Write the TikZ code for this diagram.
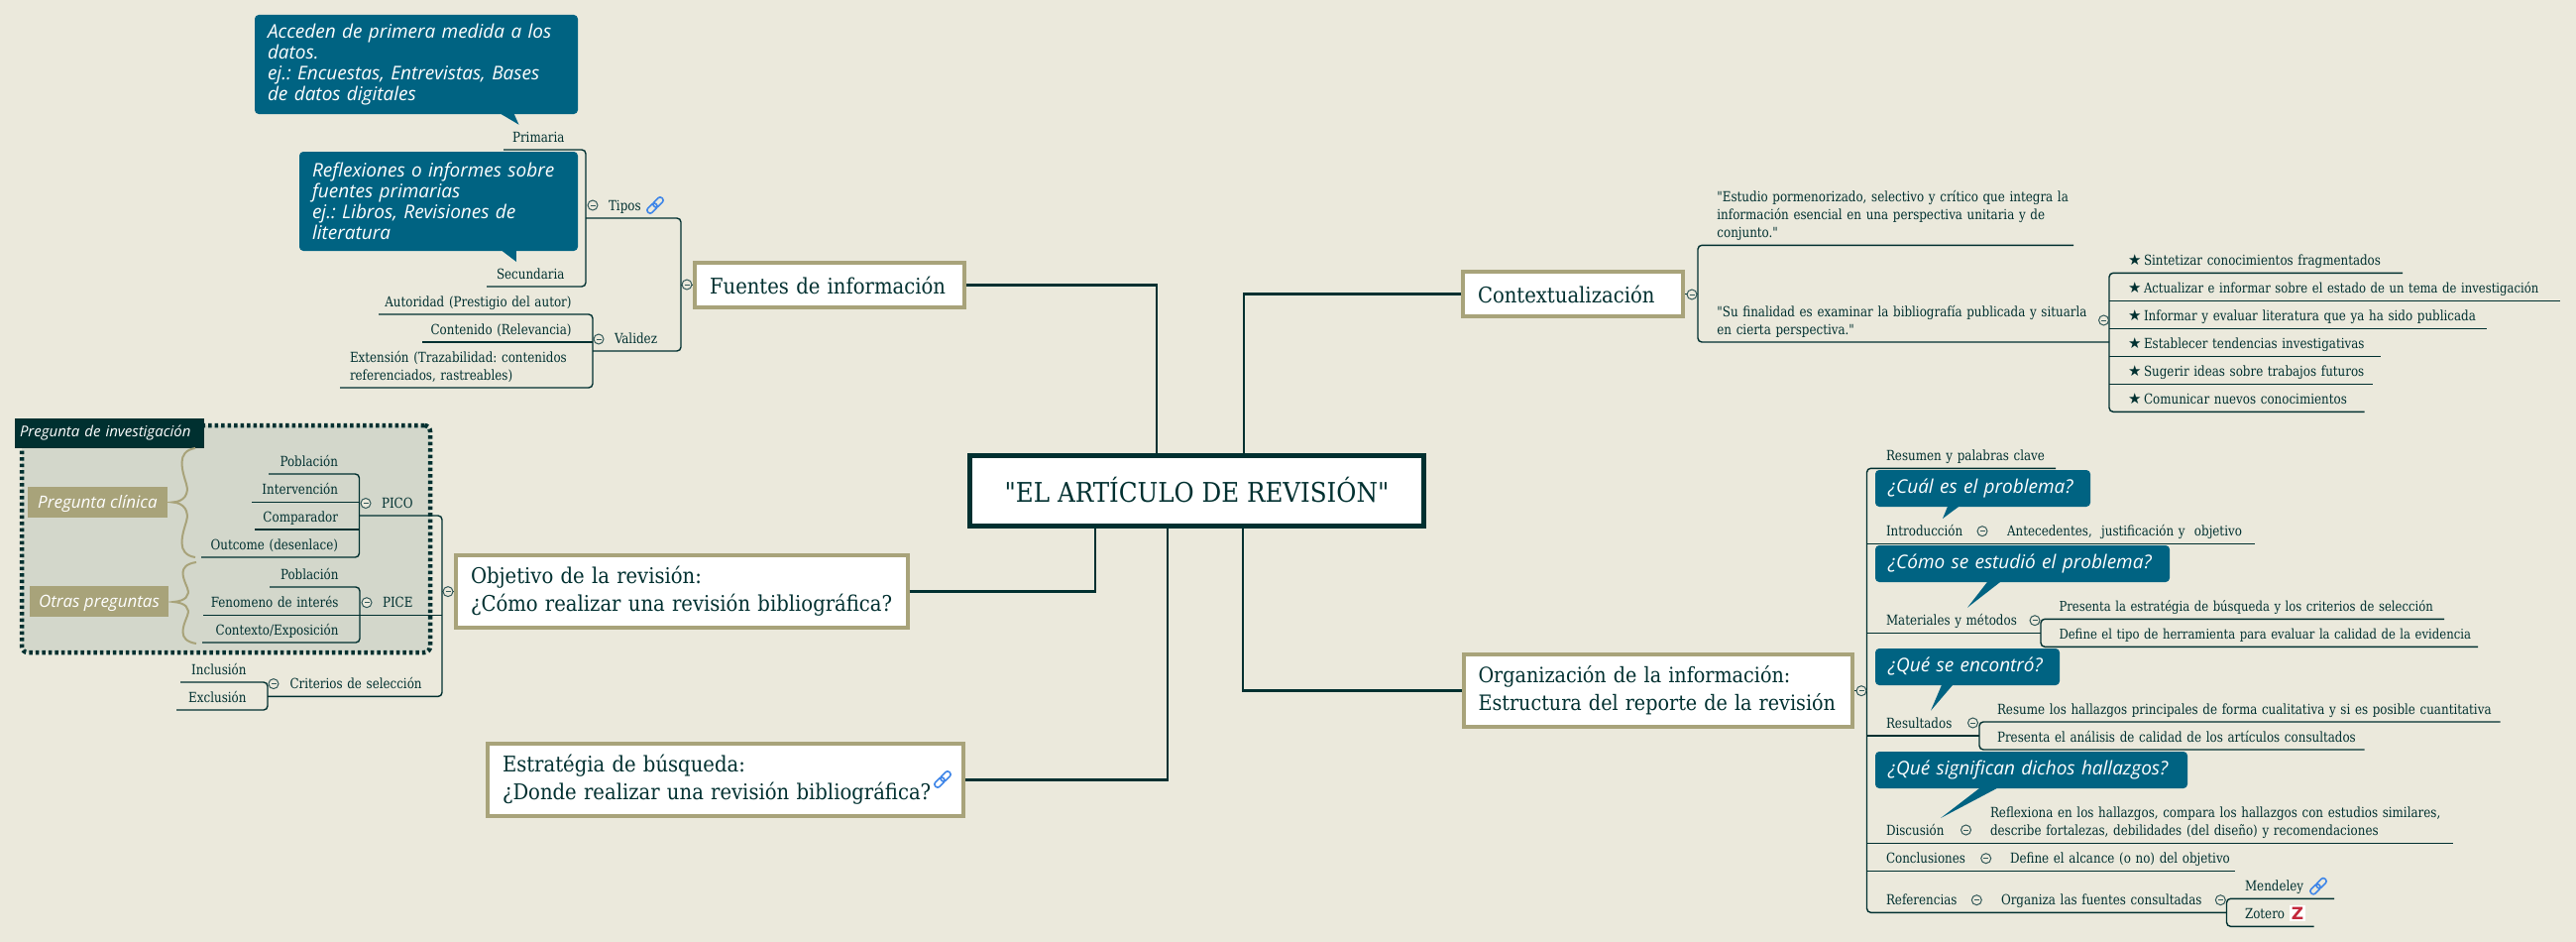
\documentclass[tikz,border=0pt]{standalone}
\usepackage{fontspec}
\newfontfamily\slabfont{DejaVu Serif Condensed}
\newfontfamily\leaffont{DejaVu Serif Condensed}[FakeStretch=0.945]
\newfontfamily\callfont{Open Sans}
\newfontfamily\symbfont{DejaVu Sans}
\usetikzlibrary{calc}
\definecolor{paper}{HTML}{EBE9DC}
\definecolor{ink}{HTML}{003030}
\definecolor{khaki}{HTML}{A8A37A}
\definecolor{callblue}{HTML}{006382}
\definecolor{sage}{HTML}{D3D7CB}
\definecolor{linkblue}{HTML}{3F86E8}
\definecolor{zred}{HTML}{C4283C}
\frenchspacing
\newcommand\lowerend{\endgraf\vskip-3pt\relax}
\begin{document}
\begin{tikzpicture}[
    x=1pt, y=-1pt,
    % Rami
    trunk/.style={draw=ink, line width=2.6pt},
    bough/.style={draw=ink, line width=1.4pt, rounded corners=4pt},
    curly/.style={draw=khaki, line width=2pt},
    % Riquadri
    mainbox/.style={rectangle, draw=ink, fill=white, line width=5pt, align=center, font=\slabfont\fontsize{27.3}{32}\selectfont, text=ink},
    mapbox/.style={rectangle, draw=khaki, fill=white, line width=4pt, text width=#1pt, inner xsep=15pt, align=left, font=\slabfont\fontsize{21.8}{28}\selectfont, text=ink},
    lowered/.style={execute at end node=\lowerend},
    % Fumetti
    callout/.style={rectangle, fill=callblue, rounded corners=4pt, text=white, text width=#1pt, inner xsep=13pt, inner ysep=0pt, align=left, font=\callfont\itshape\fontsize{19}{21}\selectfont},
    calltail/.style={fill=callblue},
    tagbox/.style={rectangle, fill=khaki, text=white, inner sep=0pt, text height=15pt, text depth=4pt, font=\callfont\itshape\fontsize{17}{20}\selectfont},
    titlebox/.style={rectangle, fill=ink, text=white, text width=181pt, inner xsep=5pt, inner ysep=0pt, align=left, font=\callfont\itshape\fontsize{15}{18}\selectfont},
    boundary/.style={rectangle, draw=ink, fill=sage, line width=4.5pt, dash pattern=on 3.5pt off 3pt, rounded corners=6pt},
    % Testi
    leafr/.style 2 args={anchor=south west, text width=#1pt, inner xsep=0pt, inner ysep=2.6pt, outer sep=0pt, align=left, text=ink, font=\leaffont\fontsize{14}{18}\selectfont, execute at begin node={\leftskip=#2pt\relax}, execute at end node=\strut},
    leafl/.style={anchor=south east, text width=#1pt, inner xsep=0pt, inner ysep=2.6pt, outer sep=0pt, align=right, text=ink, font=\leaffont\fontsize{14}{18}\selectfont, execute at begin node={\rightskip=21.5pt\relax}, execute at end node=\strut},
    tight/.style={font=\leaffont\fontsize{13.7}{18}\selectfont},
    collapse/.style={circle, draw=ink!80, fill=paper, line width=1pt, minimum size=10pt, inner sep=0pt, path picture={\draw[ink!80, line width=.9pt] ($(path picture bounding box.center)+(-2.5,0)$) -- ($(path picture bounding box.center)+(2.5,0)$);}},
    zicon/.style={rectangle, fill=white, text=zred, minimum width=16pt, minimum height=16pt, inner sep=0pt, font=\symbfont\bfseries\fontsize{17}{17}\selectfont},
    linkicon/.pic={\draw[linkblue, line width=1.6pt, rounded corners=2.5pt, rotate=45] (-10,-3) rectangle (1.5,3) (-1.5,-3) rectangle (10,3);}
]

\fill[paper] (0,0) rectangle (2599,950);
\useasboundingbox (0,0) rectangle (2599,950);

% === RIQUADRO PREGUNTA ===
\node[boundary, minimum width=412pt, minimum height=229pt] (pregunta) at (228,543.5) {};
\node[titlebox, minimum height=30pt] (preguntatit) at (110.5,437) {\mbox{Pregunta de investigación}};
\node[tagbox, minimum width=141pt, minimum height=31pt] (clinica) at (98.5,506.5) {Pregunta clínica};
\node[tagbox, minimum width=140pt, minimum height=31pt] (otras) at (100,606.5) {Otras preguntas};
\draw[curly] (197,452) .. controls (177,455) and (184,475) .. (188,488) .. controls (191,498) and (186,506) .. (174,506.5) .. controls (186,507) and (191,516) .. (188,526) .. controls (184,539) and (177,559) .. (197,562);
\draw[curly] (198,567) .. controls (178,570) and (185,583) .. (189,593) .. controls (192,601) and (187,606) .. (175,607) .. controls (187,608) and (192,613) .. (189,621) .. controls (185,631) and (178,646) .. (198,649);

% === FONTI ===
\node[callout=300, minimum height=100pt] (callprim) at (420,65) {\mbox{Acceden de primera medida a los}\\datos.\\\mbox{ej.: Encuestas, Entrevistas, Bases}\\de datos digitales};
\node[callout=255, minimum height=100pt] (callsec) at (442.5,203) {\mbox{Reflexiones o informes sobre}\\fuentes primarias\\\mbox{ej.: Libros, Revisiones de}\\literatura};
\coordinate (tipprim) at (523.5,125.7);
\coordinate (tipsec) at (521,264);
\fill[calltail] ([xshift=249pt]callprim.south west) -- (tipprim) -- ([xshift=262pt]callprim.south west) -- cycle;
\fill[calltail] ([xshift=205pt]callsec.south west) -- (tipsec) -- ([xshift=219pt]callsec.south west) -- cycle;

\node[mapbox=242, minimum height=45pt] (fuentes) at (837,287.5) {\mbox{Fuentes de información}};
\node[leafl=83] (primaria) at (591,151) {Primaria};
\node[leafl=100] (secundaria) at (591,289) {Secundaria};
\node[leafr={96}{23}] (tipos) at (591,220) {Tipos};
\node[leafl=216] (autoridad) at (598,317) {\mbox{Autoridad (Prestigio del autor)}};
\node[leafl=172] (contenido) at (598,345) {\mbox{Contenido (Relevancia)}};
\node[leafr={255}{10}] (extension) at (343,391) {\mbox{Extensión (Trazabilidad: contenidos}\\referenciados, rastreables)};
\node[leafr={89}{22}] (validez) at (598,354) {Validez};

\draw[bough] (primaria.south west) -| (secundaria.south east) -- (secundaria.south west);
\draw[bough] (autoridad.south west) -| (extension.south east) -- (extension.south west);
\draw[bough] (contenido.south west) -- (contenido.south east);
\draw[bough] (tipos.south west) -| (validez.south east) -- (validez.south west);
\draw[bough] (fuentes.west) -- (fuentes.west -| tipos.south east);

\node[collapse] (ctipos) at (598,207) {};
\node[collapse] (cvalidez) at (604,342) {};
\node[collapse] (cfuentes) at (693,287) {};
\pic at (661,207) {linkicon};

% === OBIETTIVO ===
\node[mapbox=425.5, lowered, minimum height=72.5pt] (objetivo) at (687.75,596.25) {Objetivo de la revisión:\\\mbox{¿Cómo realizar una revisión bibliográfica?}};
\node[leafl=91.5] (poblacion) at (362.5,478) {Población};
\node[leafl=108.5] (intervencion) at (362.5,506.4) {Intervención};
\node[leafl=105.5] (comparador) at (362.5,534) {Comparador};
\node[leafl=159.5] (outcome) at (362.5,562) {\mbox{Outcome (desenlace)}};
\node[leafr={83.5}{22.5}] (pico) at (362.5,520) {PICO};
\node[leafl=91] (poblaciondos) at (363,592) {Población};
\node[leafl=158] (fenomeno) at (363,620.4) {\mbox{Fenomeno de interés}};
\node[leafl=159] (contexto) at (363,648) {\mbox{Contexto/Exposición}};
\node[leafr={83}{23}] (pice) at (363,620.4) {PICE};
\node[leafl=88] (inclusion) at (270,688) {Inclusión};
\node[leafl=92] (exclusion) at (270,716) {Exclusión};
\node[leafr={176}{22.5}] (criterios) at (270,702.4) {\mbox{Criterios de selección}};

\draw[bough] (poblacion.south west) -| (outcome.south east) -- (outcome.south west);
\draw[bough] (intervencion.south west) -- (intervencion.south east);
\draw[bough] (comparador.south west) -- (comparador.south east);
\draw[bough] (poblaciondos.south west) -| (contexto.south east) -- (contexto.south west);
\draw[bough] (fenomeno.south west) -- (fenomeno.south east);
\draw[bough] (pice.south west) -- (pice.south east);
\draw[bough] (inclusion.south west) -| (exclusion.south east) -- (exclusion.south west);
\draw[bough] (pico.south west) -| (criterios.south east) -- (criterios.south west);
\draw[bough] (objetivo.west) -- (objetivo.west -| pico.south east);

\node[collapse] (cpico) at (369,507.5) {};
\node[collapse] (cpice) at (370,607.7) {};
\node[collapse] (ccriterios) at (276,689.6) {};
\node[collapse] (cobjetivo) at (452,596.6) {};

% === STRATEGIA ===
\node[mapbox=450, lowered, minimum height=73pt] (estrategia) at (732,786.5) {Estratégia de búsqueda:\\\mbox{¿Donde realizar una revisión bibliográfica?}};
\pic at (951,786) {linkicon};

% === CONTESTO ===
\node[mapbox=192, minimum height=45pt] (contextual) at (1587,296.5) {\mbox{Contextualización}};
\node[leafr={379}{19.4}] (estudio) at (1713,247.3) {\mbox{"Estudio pormenorizado, selectivo y crítico que integra la}\\\mbox{información esencial en una perspectiva unitaria y de}\\conjunto."};
\node[leafr={415}{19.4}] (finalidad) at (1713,345) {\mbox{"Su finalidad es examinar la bibliografía publicada y situarla}\\en cierta perspectiva."};
\node[leafr={296}{35}] (sintetizar) at (2128,275.3) {\llap{\symbfont\fontsize{15}{18}\selectfont ★\,}\mbox{Sintetizar conocimientos fragmentados}};
\node[leafr={455}{35}, tight] (actualizar) at (2128,303.3) {\llap{\symbfont\fontsize{15}{18}\selectfont ★\,}\mbox{Actualizar e informar sobre el estado de un tema de investigación}};
\node[leafr={381}{35}] (informar) at (2128,331.3) {\llap{\symbfont\fontsize{15}{18}\selectfont ★\,}\mbox{Informar y evaluar literatura que ya ha sido publicada}};
\node[leafr={274}{35}] (establecer) at (2128,359.3) {\llap{\symbfont\fontsize{15}{18}\selectfont ★\,}\mbox{Establecer tendencias investigativas}};
\node[leafr={265.5}{35}] (sugerir) at (2128,387.3) {\llap{\symbfont\fontsize{15}{18}\selectfont ★\,}\mbox{Sugerir ideas sobre trabajos futuros}};
\node[leafr={257.5}{35}] (comunicar) at (2128,415.3) {\llap{\symbfont\fontsize{15}{18}\selectfont ★\,}\mbox{Comunicar nuevos conocimientos}};

\draw[bough] (estudio.south east) -| (finalidad.south west) -- (finalidad.south east);
\draw[bough] (sintetizar.south east) -| (comunicar.south west) -- (comunicar.south east);
\draw[bough] (actualizar.south west) -- (actualizar.south east);
\draw[bough] (informar.south west) -- (informar.south east);
\draw[bough] (establecer.south west) -- (establecer.south east);
\draw[bough] (sugerir.south west) -- (sugerir.south east);
\draw[bough] (contextual.east) -- (contextual.east -| estudio.south west);

\node[collapse] (ccontextual) at (1707,297) {};
\node[collapse] (cfinalidad) at (2122.5,323) {};

% === ORGANIZZAZIONE ===
\node[mapbox=362.5, lowered, minimum height=73pt, font=\slabfont\fontsize{21.3}{28}\selectfont] (organiza) at (1672.75,696.5) {\mbox{Organización de la información:}\\\mbox{Estructura del reporte de la revisión}};
\node[leafr={190.5}{19.5}] (resumen) at (1883.5,472.3) {\mbox{Resumen y palabras clave}};
\node[leafr={122.5}{19.5}] (intro) at (1883.5,548.3) {Introducción};
\node[leafr={269}{19}] (antecedentes) at (2006,548.3) {\mbox{Antecedentes,\ \ justificación y\ \ objetivo}};
\node[leafr={175.5}{19.5}] (metodos) at (1883.5,638.3) {\mbox{Materiales y métodos}};
\node[leafr={407}{18.5}, tight] (estrategiasel) at (2059,624.3) {\mbox{Presenta la estratégia de búsqueda y los criterios de selección}};
\node[leafr={441}{18.5}, tight] (herramienta) at (2059,652.3) {\mbox{Define el tipo de herramienta para evaluar la calidad de la evidencia}};
\node[leafr={113.5}{19.5}] (resultados) at (1883.5,742) {Resultados};
\node[leafr={525.6}{18}] (hallazgos) at (1997,728) {\mbox{Resume los hallazgos principales de forma cualitativa y si es posible cuantitativa}};
\node[leafr={388.5}{18}] (calidad) at (1997,756) {\mbox{Presenta el análisis de calidad de los artículos consultados}};
\node[leafr={106.5}{19.5}] (discusion) at (1883.5,850.3) {Discusión};
\node[leafr={485}{18}] (reflexiona) at (1990,850.3) {\mbox{Reflexiona en los hallazgos, compara los hallazgos con estudios similares,}\\\mbox{describe fortalezas, debilidades (del diseño) y recomendaciones}};
\node[leafr={125.5}{19.5}] (conclusiones) at (1883.5,878.3) {Conclusiones};
\node[leafr={245.5}{19}] (alcance) at (2009,878.3) {\mbox{Define el alcance (o no) del objetivo}};
\node[leafr={116.5}{19.5}] (referencias) at (1883.5,920.3) {Referencias};
\node[leafr={246.5}{19}] (fuentesorg) at (2000,920.3) {\mbox{Organiza las fuentes consultadas}};
\node[leafr={108.5}{18.5}] (mendeley) at (2246.5,906.3) {Mendeley};
\node[leafr={88}{18.5}] (zotero) at (2246.5,934.3) {Zotero};
\node[zicon] (zoterologo) at (2318,921) {Z};
\pic at (2339,893.7) {linkicon};

\node[callout=191, minimum height=37pt] (callcual) at (2000.5,492.5) {\mbox{¿Cuál es el problema?}};
\node[callout=271, minimum height=37pt] (callcomo) at (2040.5,568.5) {\mbox{¿Cómo se estudió el problema?}};
\node[callout=160, minimum height=37pt] (callque) at (1985,672.5) {\mbox{¿Qué se encontró?}};
\node[callout=289, minimum height=37pt] (callsignif) at (2049.5,776.5) {\mbox{¿Qué significan dichos hallazgos?}};
\coordinate (tipcual) at (1960,523);
\coordinate (tipcomo) at (1985,612.7);
\coordinate (tipque) at (1948,716.7);
\coordinate (tipsignif) at (1958,825);
\fill[calltail] ([xshift=73pt]callcual.south west) -- (tipcual) -- ([xshift=84pt]callcual.south west) -- cycle;
\fill[calltail] ([xshift=113pt]callcomo.south west) -- (tipcomo) -- ([xshift=126pt]callcomo.south west) -- cycle;
\fill[calltail] ([xshift=67pt]callque.south west) -- (tipque) -- ([xshift=78pt]callque.south west) -- cycle;
\fill[calltail] ([xshift=105pt]callsignif.south west) -- (tipsignif) -- ([xshift=122.6pt]callsignif.south west) -- cycle;

\draw[bough] (resumen.south east) -| (referencias.south west) -- (fuentesorg.south east);
\draw[bough] (intro.south west) -- (antecedentes.south east);
\draw[bough] (metodos.south west) -- (metodos.south east);
\draw[bough] (estrategiasel.south east) -| (herramienta.south west) -- (herramienta.south east);
\draw[bough] (resultados.south west) -- (resultados.south east);
\draw[bough] (hallazgos.south east) -| (calidad.south west) -- (calidad.south east);
\draw[bough] (discusion.south west) -- (reflexiona.south east);
\draw[bough] (conclusiones.south west) -- (alcance.south east);
\draw[bough] (mendeley.south east) -| (zotero.south west) -- (zotero.south east);
\draw[bough] (organiza.east) -- (organiza.east -| resumen.south west);

\node[collapse] (cintro) at (2000,535.7) {};
\node[collapse] (cmetodos) at (2053,625.7) {};
\node[collapse] (cresultados) at (1990.5,729) {};
\node[collapse] (cdiscusion) at (1983.5,837) {};
\node[collapse] (cconclusiones) at (2003.7,865.7) {};
\node[collapse] (creferencias) at (1994.3,907.7) {};
\node[collapse] (cfuentesorg) at (2240.3,907.7) {};
\node[collapse] (corganiza) at (1878,696.7) {};

% === NODO CENTRALE ===
\node[mainbox, minimum width=458pt, minimum height=71pt] (articulo) at (1207.5,495) {\raisebox{3pt}{"EL ARTÍCULO DE REVISIÓN"}};
\coordinate (attfuentes) at (1167,457);
\coordinate (attcontextual) at (1255,457);
\coordinate (attobjetivo) at (1105,533);
\coordinate (attestrategia) at (1178,533);
\coordinate (attorganiza) at (1254,533);
\draw[trunk] (fuentes.east) -| (attfuentes);
\draw[trunk] (contextual.west) -| (attcontextual);
\draw[trunk] (objetivo.east) -| (attobjetivo);
\draw[trunk] (estrategia.east) -| (attestrategia);
\draw[trunk] (organiza.west) -| (attorganiza);

\end{tikzpicture}
\end{document}
